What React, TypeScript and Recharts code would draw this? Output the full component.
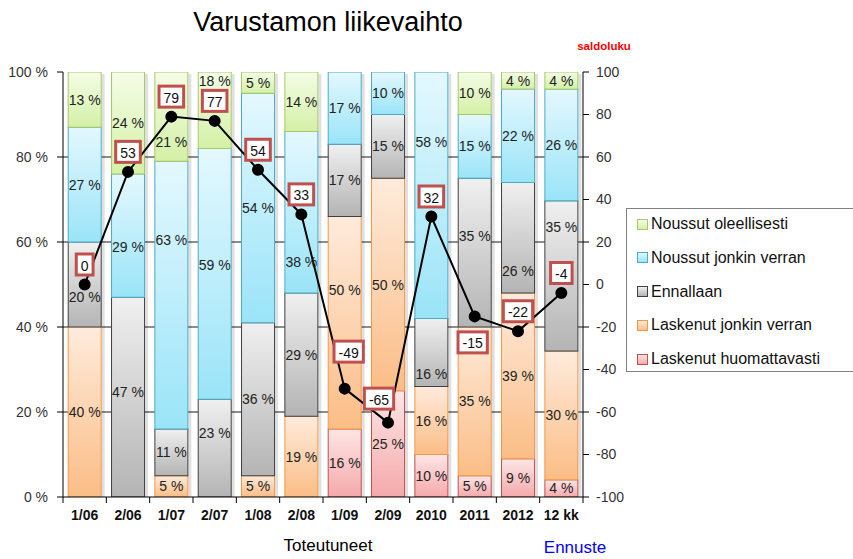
import React from 'react';
import { ComposedChart, Bar, Line, XAxis, YAxis, CartesianGrid, LabelList } from 'recharts';

const categories = ['1/06', '2/06', '1/07', '2/07', '1/08', '2/08', '1/09', '2/09', '2010', '2011', '2012', '12 kk'];
const laskenutHuomattavasti = [0, 0, 0, 0, 0, 0, 16, 25, 10, 5, 9, 4];
const laskenutJonkinVerran = [40, 0, 5, 0, 5, 19, 50, 50, 16, 35, 39, 30];
const ennallaan = [20, 47, 11, 23, 36, 29, 17, 15, 16, 35, 26, 35];
const noussutJonkinVerran = [27, 29, 63, 59, 54, 38, 17, 10, 58, 15, 22, 26];
const noussutOleellisesti = [13, 24, 21, 18, 5, 14, 0, 0, 0, 10, 4, 4];
const saldoluku = [0, 53, 79, 77, 54, 33, -49, -65, 32, -15, -22, -4];
const leftTicks = [0, 20, 40, 60, 80, 100];
const rightTicks = [-100, -80, -60, -40, -20, 0, 20, 40, 60, 80, 100];

// bottom to top
const series = [
  { key: 'lh', name: 'Laskenut huomattavasti', values: laskenutHuomattavasti, top: '#fde6e6', bottom: '#f5a9ab', stroke: '#c0504d' },
  { key: 'lj', name: 'Laskenut jonkin verran', values: laskenutJonkinVerran, top: '#feebdc', bottom: '#fbbd86', stroke: '#f79646' },
  { key: 'en', name: 'Ennallaan', values: ennallaan, top: '#f0f0f0', bottom: '#b4b4b4', stroke: '#404040' },
  { key: 'nj', name: 'Noussut jonkin verran', values: noussutJonkinVerran, top: '#e4f8fe', bottom: '#9ae4f8', stroke: '#4bacc6' },
  { key: 'no', name: 'Noussut oleellisesti', values: noussutOleellisesti, top: '#f4fde6', bottom: '#d4f0a6', stroke: '#a5c86a' },
];

// 100 % stacked like Excel: each column scaled to its own total
const data = categories.map((name, i) => {
  const total = series.reduce((sum, s) => sum + s.values[i], 0);
  const row: any = { name, saldo: saldoluku[i] };
  series.forEach((s) => {
    row[s.key] = (s.values[i] * 100) / total;
    row[`${s.key}Raw`] = s.values[i];
  });
  return row;
});

const FONT = '"Liberation Sans", Arial, sans-serif';
const BAND = 520 / 12;

// labels that were nudged by hand in the original so they clear the line
const pctNudge: Record<string, number> = {
  'no-2': 25, 'no-3': -29, 'en-0': 12, 'nj-1': 11, 'en-1': -5, 'nj-2': -55, 'nj-3': -9, 'en-3': -15,
  'nj-5': 50, 'lj-6': -33, 'nj-8': -53, 'en-8': 21, 'en-9': -17, 'en-10': 33, 'en-11': -49,
};
const saldoNudge: Record<number, [number, number]> = { 6: [4, -37], 7: [-9, -24], 9: [-2, 26] };

const makePctLabel = (key: string) => (props: any) => {
  const { x, y, width, height, value, index } = props;
  if (!value) return null;
  const dy = pctNudge[`${key}-${index}`] ?? 0;
  return (
    <text x={x + width / 2} y={y + height / 2 + dy} textAnchor="middle" dominantBaseline="central"
      fontSize={14} fontFamily={FONT} fill="#222">{`${value} %`}</text>
  );
};

const SaldoLabel = (props: any) => {
  const { x, y, value, index } = props;
  const [dx, dy] = saldoNudge[index] ?? [0, -20];
  const text = String(value);
  const w = text.replace('-', '').length * 7.8 + (text.includes('-') ? 4.7 : 0) + 9;
  const h = 21;
  const cx = x + dx;
  const cy = y + dy;
  return (
    <g>
      <rect x={cx - w / 2} y={cy - h / 2} width={w} height={h} fill="#fff" stroke="#c0504d" strokeWidth={3} />
      <text x={cx} y={cy + 1} textAnchor="middle" dominantBaseline="central" fontSize={14} fontFamily={FONT} fill="#111">{text}</text>
    </g>
  );
};

const ShadedBar = (props: any) => {
  const { x, y, width, height, fill, stroke } = props;
  if (!height || height <= 0) return null;
  return (
    <g>
      <rect x={x + width + 0.5} y={y + 2} width={3} height={height} fill="#000" fillOpacity={0.12} />
      <rect x={x} y={y} width={width} height={height} fill={fill} stroke={stroke} strokeWidth={1} />
    </g>
  );
};

const XTick = (props: any) => {
  const { x, y, payload, index } = props;
  return (
    <g>
      <line x1={x - BAND / 2} x2={x - BAND / 2} y1={y - 8} y2={y - 2} stroke="#000" />
      {index === categories.length - 1 && <line x1={x + BAND / 2} x2={x + BAND / 2} y1={y - 8} y2={y - 2} stroke="#000" />}
      <text x={x} y={y + 10} textAnchor="middle" dominantBaseline="central" fontSize={14} fontWeight="bold" fontFamily={FONT} fill="#111">
        {payload.value}
      </text>
    </g>
  );
};

export default function App() {
  const legendItems = [...series].reverse();
  return (
    <div style={{ position: 'relative', width: 853, height: 559, overflow: 'hidden', background: '#fff', fontFamily: FONT }}>
      <style>{'body{margin:0}'}</style>
      <ComposedChart width={853} height={559} data={data} barCategoryGap="12%"
        margin={{ top: 72, right: 218, bottom: 32, left: 8 }}>
        <defs>
          {series.map((s) => (
            <linearGradient key={s.key} id={`g-${s.key}`} x1="0" y1="0" x2="0" y2="1">
              <stop offset="0%" stopColor={s.top} />
              <stop offset="100%" stopColor={s.bottom} />
            </linearGradient>
          ))}
        </defs>
        <CartesianGrid vertical={false} horizontalValues={[20, 40, 60, 80]} stroke="#1a1a1a" />
        <XAxis dataKey="name" axisLine={{ stroke: '#000' }} tickLine={false} height={30} interval={0} tick={<XTick />} />
        <YAxis yAxisId={0} domain={[0, 100]} ticks={leftTicks} width={55} allowDataOverflow axisLine={{ stroke: '#000' }}
          tickLine={{ stroke: '#000' }} tickMargin={9} tick={{ fontSize: 14, fill: '#333', fontFamily: FONT }}
          tickFormatter={(v: number) => `${v} %`} />
        <YAxis yAxisId="right" orientation="right" domain={[-100, 100]} ticks={rightTicks} width={52}
          axisLine={{ stroke: '#000' }} tickLine={{ stroke: '#000' }} tickMargin={7}
          tick={{ fontSize: 14, fill: '#333', fontFamily: FONT, textAnchor: 'start' }} />
        {series.map((s) => (
          <Bar key={s.key} dataKey={s.key} name={s.name} stackId="a" fill={`url(#g-${s.key})`}
            stroke={s.stroke} strokeWidth={1} shape={<ShadedBar />} isAnimationActive={false}>
            <LabelList dataKey={`${s.key}Raw`} content={makePctLabel(s.key)} />
          </Bar>
        ))}
        <Line yAxisId="right" dataKey="saldo" stroke="#000" strokeWidth={2}
          dot={{ r: 5, fill: '#000', stroke: '#000' }} isAnimationActive={false}>
          <LabelList dataKey="saldo" content={<SaldoLabel />} />
        </Line>
      </ComposedChart>

      <div style={{ position: 'absolute', left: 328, top: 22, transform: 'translate(-50%, -50%)', fontSize: 27, whiteSpace: 'nowrap', color: '#000' }}>
        Varustamon liikevaihto
      </div>
      <div style={{ position: 'absolute', left: 604, top: 46, transform: 'translate(-50%, -50%)', fontSize: 11.5, fontWeight: 'bold', color: '#ff0000' }}>
        saldoluku
      </div>
      <div style={{ position: 'absolute', left: 328, top: 546, transform: 'translate(-50%, -50%)', fontSize: 17, whiteSpace: 'nowrap', color: '#000' }}>
        Toteutuneet
      </div>
      <div style={{ position: 'absolute', left: 575, top: 548, transform: 'translate(-50%, -50%)', fontSize: 17, whiteSpace: 'nowrap', color: '#0000ff' }}>
        Ennuste
      </div>

      <div style={{ position: 'absolute', left: 626, top: 208, width: 250, height: 164, border: '1px solid #808080', boxSizing: 'border-box', background: '#fff' }}>
        {legendItems.map((s, i) => (
          <div key={s.key} style={{ position: 'absolute', left: 10, top: 15 + i * 33.8 - 10, height: 20, display: 'flex', alignItems: 'center', whiteSpace: 'nowrap' }}>
            <span style={{ display: 'inline-block', width: 9, height: 9, border: `1px solid ${s.stroke}`, background: `linear-gradient(${s.top}, ${s.bottom})`, marginRight: 3 }} />
            <span style={{ fontSize: 16, color: '#111' }}>{s.name}</span>
          </div>
        ))}
      </div>
    </div>
  );
}
